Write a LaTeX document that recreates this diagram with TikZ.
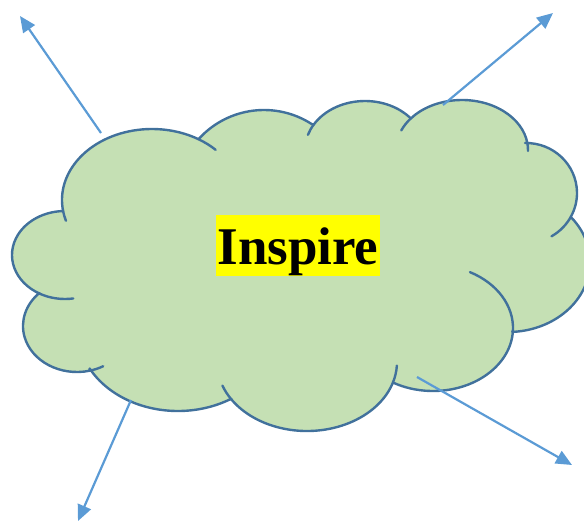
\documentclass[tikz,border=0pt]{standalone}
\usepackage{fontspec}
\setmainfont{Liberation Serif}
\usetikzlibrary{arrows.meta}
\definecolor{cloudgreen}{HTML}{C5E0B4}
\definecolor{cloudblue}{HTML}{41719C}
\definecolor{arrowblue}{HTML}{5B9BD5}
\definecolor{marker}{HTML}{FFFF00}

% one bump of the cloud: centre x, centre y, x radius, y radius, from angle, to angle
\newcommand{\cloudbump}[6]{-- ([shift={(#1,#2)}]#5:#3 and #4) arc[start angle=#5,end angle=#6,x radius=#3,y radius=#4]}
\newcommand{\cloudstub}[6]{\draw[cloudedge] ([shift={(#1,#2)}]#5:#3 and #4) arc[start angle=#5,end angle=#6,x radius=#3,y radius=#4];}

\tikzset{
	cloudedge/.style={draw=cloudblue,line width=2.4pt,line cap=round},
	pointer/.style={draw=arrowblue,line width=2.2pt,-{Triangle[length=16pt,width=14pt]}},
}

\begin{document}
\begin{tikzpicture}[x=1pt,y=1pt]
	\useasboundingbox (0,0) rectangle (584,-523);
	\clip (0,0) rectangle (584,-523);

	% the cloud
	\filldraw[fill=cloudgreen,cloudedge,line join=round] (63,-211)
		\cloudbump{152}{-200}{90}{71}{189}{59}
		\cloudbump{264}{-198}{88}{88}{137}{57}
		\cloudbump{365}{-150}{60}{49}{149}{41}
		\cloudbump{462}{-150}{66}{50}{141}{8}
		\cloudbump{526}{-193}{51}{50}{91}{-28}
		\cloudbump{508}{-262}{82}{70}{39.5}{-87}
		\cloudbump{433}{-328}{80}{63}{-2}{-120}
		\cloudbump{307}{-362}{90}{69}{-17}{-146.5}
		\cloudbump{178}{-331}{100}{80}{-58}{-152}
		\cloudbump{77}{-326}{54}{46}{-76.6}{-225.5}
		\cloudbump{65}{-255}{53}{44}{-118}{-268}
		-- cycle;

	% inner arcs
	\cloudstub{152}{-200}{90}{71}{189}{197}
	\cloudstub{152}{-200}{90}{71}{59}{45}
	\cloudstub{365}{-150}{60}{49}{149}{162}
	\cloudstub{462}{-150}{66}{50}{141}{157}
	\cloudstub{462}{-150}{66}{50}{8}{-1}
	\cloudstub{526}{-193}{51}{50}{-28}{-60}
	\cloudstub{433}{-328}{80}{63}{-2}{62.5}
	\cloudstub{307}{-362}{90}{69}{-17}{-3}
	\cloudstub{307}{-362}{90}{69}{-146.5}{-160}
	\cloudstub{77}{-326}{54}{46}{-76.6}{-61}
	\cloudstub{65}{-255}{53}{44}{-118}{-81}

	\node[fill=marker,inner xsep=1pt,inner ysep=0pt,text height=49pt,text depth=12pt,
		font=\fontsize{53}{61}\selectfont\bfseries] (title) at (298,-245.5) {Inspire};

	% arrows
	\coordinate (nwfrom) at (101,-133);
	\coordinate (nwto) at (20,-16);
	\coordinate (nefrom) at (443,-105);
	\coordinate (neto) at (553,-13);
	\coordinate (swfrom) at (131,-400);
	\coordinate (swto) at (78,-521);
	\coordinate (sefrom) at (417,-377);
	\coordinate (seto) at (572,-465);
	\draw[pointer] (nwfrom) -- (nwto);
	\draw[pointer] (nefrom) -- (neto);
	\draw[pointer] (swfrom) -- (swto);
	\draw[pointer] (sefrom) -- (seto);
\end{tikzpicture}
\end{document}
